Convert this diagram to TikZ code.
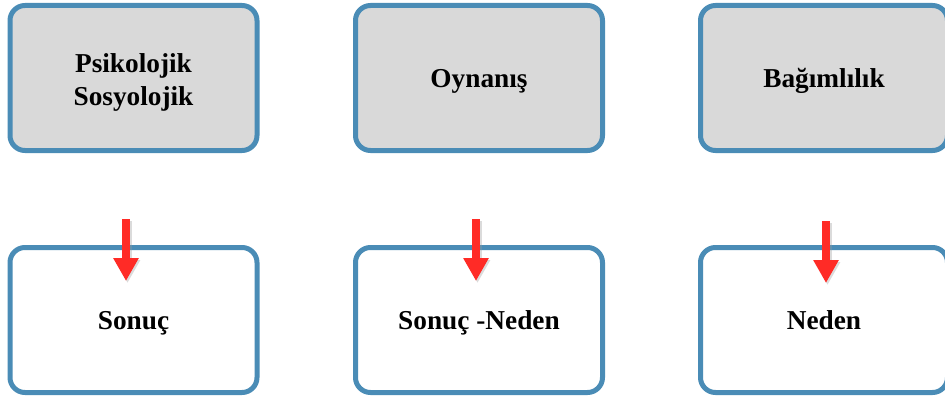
\documentclass[tikz,border=0pt]{standalone}
\usepackage{fontspec}
\setmainfont{Liberation Serif}
\usetikzlibrary{arrows.meta}
\definecolor{bordblue}{HTML}{4A8CB6}
\definecolor{boxgray}{HTML}{D9D9D9}
\definecolor{arrred}{HTML}{FF2B26}
\tikzset{
  box/.style={draw=bordblue, line width=5pt, rounded corners=15pt,
    minimum width=247pt, minimum height=145pt, align=center,
    font=\fontsize{27.3}{30}\selectfont\bfseries, inner sep=0pt},
  topbox/.style={box, fill=boxgray, text height=20pt, text depth=0pt},
  botbox/.style={box, fill=white, text height=18pt, text depth=0pt},
  redarr/.style={draw=arrred, line width=8pt, -{Triangle[width=24pt,length=23pt,fill=arrred]}},
  shadarr/.style={draw=black!40, opacity=0.35, line width=8pt, -{Triangle[width=24pt,length=23pt]}}
}
\begin{document}
\begin{tikzpicture}[x=1pt,y=-1pt]
\useasboundingbox (0,0) rectangle (945,396);
\node[box, fill=boxgray] (t1) at (133.5,78) {\rule{0pt}{27pt}Psikolojik\\[3pt]Sosyolojik};
\node[topbox] (t2) at (479,78) {Oynanış};
\node[topbox] (t3) at (824,78) {Bağımlılık};
\node[botbox] (b1) at (133.5,320) {Sonuç};
\node[botbox] (b2) at (479,320) {Sonuç -Neden};
\node[botbox] (b3) at (824,320) {Neden};
\coordinate (s1) at (126,219);
\coordinate (e1) at (126,281);
\coordinate (s2) at (476,219);
\coordinate (e2) at (476,281);
\coordinate (s3) at (826,221);
\coordinate (e3) at (826,283);
\foreach \i in {1,2,3}{
  \draw[shadarr] ([shift={(1.5,2)}]s\i) -- ([shift={(1.5,2)}]e\i);
  \draw[redarr] (s\i) -- (e\i);
}
\end{tikzpicture}
\end{document}
